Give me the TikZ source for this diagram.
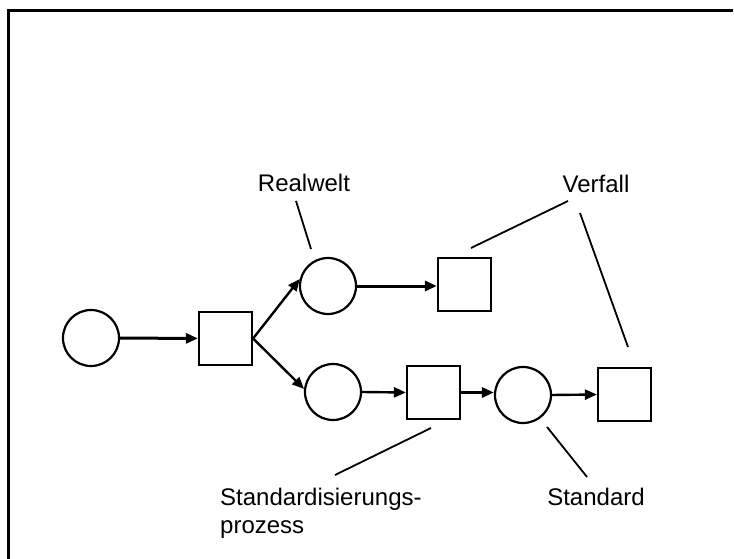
\documentclass[tikz,border=0pt]{standalone}
\usepackage{fontspec}
\setmainfont{Liberation Sans}
\usetikzlibrary{arrows.meta}
\begin{document}
\begin{tikzpicture}[x=1pt,y=-1pt,
  place/.style={circle,draw,line width=2.2pt,minimum size=56pt,inner sep=0pt},
  trans/.style={rectangle,draw,line width=2.2pt,minimum size=53pt,inner sep=0pt},
  flow/.style={line width=2.4pt,-{Triangle[length=12pt,width=10pt]}},
  thickflow/.style={flow,line width=3pt},
  leader/.style={line width=1.8pt},
  lbl/.style={font=\fontsize{24}{28}\selectfont,inner sep=0pt}]
\useasboundingbox (0,0) rectangle (734,559);
\draw[line width=3pt] (8,560) -- (8,11) -- (732.5,11);
% places and transitions
\node[place] (c1) at (91,338) {};
\node[trans] (s1) at (225.5,338.5) {};
\node[place] (c2) at (328,286) {};
\node[trans] (s2) at (464.5,284.5) {};
\node[place] (c3) at (333,392) {};
\node[trans] (s3) at (433.5,392.5) {};
\node[place] (c4) at (523,395) {};
\node[trans] (s4) at (624.5,394.5) {};
% arcs
\draw[thickflow] (c1) -- (s1);
\draw[flow] (s1.east) -- (c2.166);
\draw[flow] (s1.east) -- (c3.174);
\draw[thickflow] (c2.east) -- (c2.east -| s2.west);
\draw[flow] (c3.east) -- (s3.west);
\draw[thickflow] (s3.east) -- (s3.east -| c4.west);
\draw[flow] (c4.east) -- (s4.west);
% labels
\node[lbl,anchor=base] (lr) at (304,192) {Realwelt};
\node[lbl,anchor=base] (lv) at (596,193) {Verfall};
\node[lbl,anchor=base] (lst) at (596,505) {Standard};
\node[lbl,anchor=base west,align=left] (lsp) at (220,533) {Standardisierungs-\\prozess};
% leader lines
\coordinate (r1) at (296,201); \coordinate (r2) at (311,249);
\coordinate (v1) at (568,201); \coordinate (v2) at (471,248);
\coordinate (v3) at (580,213); \coordinate (v4) at (628,347);
\coordinate (p1) at (431,428); \coordinate (p2) at (335,475);
\coordinate (d1) at (547,427); \coordinate (d2) at (587,477);
\draw[leader] (r1) -- (r2);
\draw[leader] (v1) -- (v2);
\draw[leader] (v3) -- (v4);
\draw[leader] (p1) -- (p2);
\draw[leader] (d1) -- (d2);
\end{tikzpicture}
\end{document}
